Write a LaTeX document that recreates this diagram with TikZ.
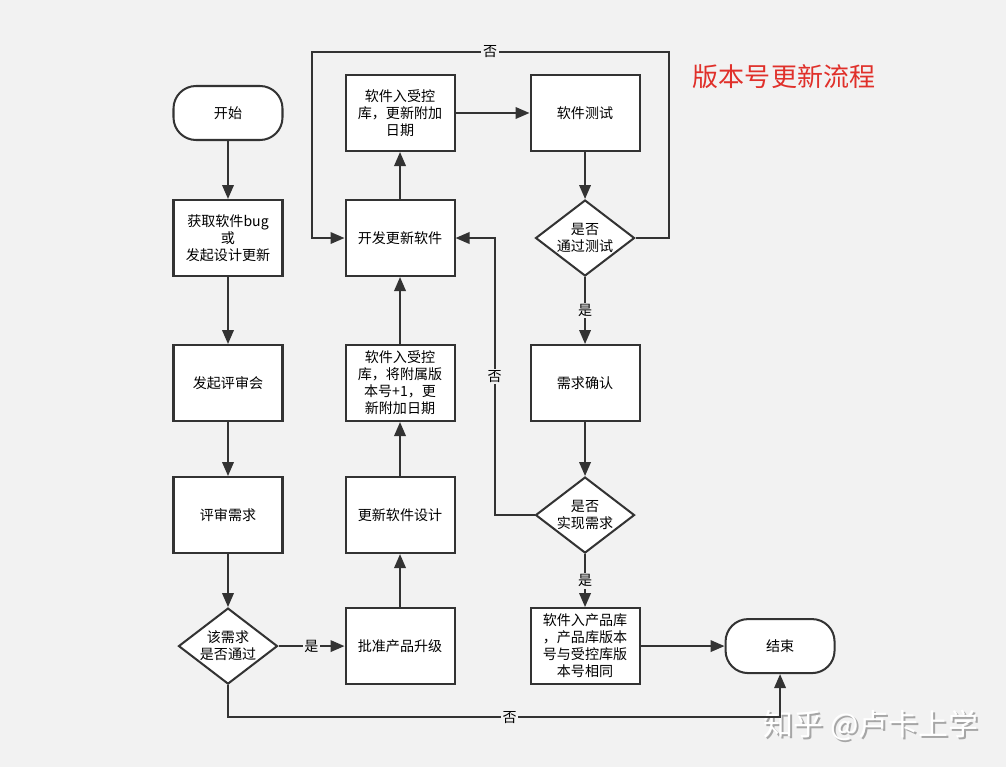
\documentclass[tikz,border=0pt]{standalone}
\usepackage{fontspec}
\setmainfont{Noto Sans CJK SC}
\usetikzlibrary{shapes.geometric, arrows.meta, positioning, calc}
\definecolor{pagebg}{HTML}{F2F2F2}
\definecolor{linegray}{HTML}{333333}
\definecolor{titlered}{HTML}{E0302A}
\tikzset{
  base/.style = {
    draw=linegray, line width=1.15pt, fill=white, minimum width=2.18cm,
    font=\fontsize{8}{9.7}\selectfont, text centered, align=center, inner sep=1pt
  },
  startstop/.style = {
    base, minimum height=1.08cm, rounded corners=0.45cm
  },
  process/.style = {
    base, minimum height=1.52cm
  },
  decision/.style = {
    base, diamond, aspect=1.3, minimum width=1.98cm, minimum height=1.52cm, inner sep=0pt
  },
  arrow/.style = {
    line width=1.15pt, draw=linegray, -{Triangle[length=2.8mm, width=2.3mm]}
  },
  branch/.style = {
    fill=pagebg, font=\fontsize{8}{9.7}\selectfont, inner sep=1pt
  }
}

\begin{document}
\begin{tikzpicture}[
  node distance = 1.08cm and 1.22cm
  ]
  \useasboundingbox[fill=pagebg] (0,0) rectangle (20.12,-15.34);

  % Left column (top to bottom)
  \node[startstop] (start) at (4.56,-2.26) {开始};
  \node[process, below=1.16cm of start] (getbug) {获取软件bug\\或\\发起设计更新};
  \node[process, below=1.34cm of getbug] (review) {发起评审会};
  \node[process, below=of review] (reqreview) {评审需求};
  \node[decision, below=1.06cm of reqreview] (reqpass) {该需求\\是否通过};

  % Middle column (bottom to top)
  \node[process, right=of reqreview] (updesign) {更新软件设计};
  \node[process, below=1.06cm of updesign] (approve) {批准产品升级};
  \node[process, right=of review] (ctrlplus) {软件入受控\\库，将附属版\\本号+1，更\\新附加日期};
  \node[process, right=of getbug] (develop) {开发更新软件};
  \node[process, above=0.94cm of develop] (ctrlbase) {软件入受控\\库，更新附加\\日期};

  % Right column (top to bottom)
  \node[process, right=1.48cm of ctrlbase] (swtest) {软件测试};
  \node[decision, below=0.94cm of swtest] (testpass) {是否\\通过测试};
  \node[process, right=1.48cm of ctrlplus] (reqconfirm) {需求确认};
  \node[decision, below=of reqconfirm] (reqmet) {是否\\实现需求};
  \node[process, below=1.06cm of reqmet] (prodlib) {软件入产品库\\，产品库版本\\号与受控库版\\本号相同};
  \node[startstop, right=1.68cm of prodlib] (finish) {结束};

  % Title and mark
  \node[font=\fontsize{14.8}{16}\selectfont, text=titlered] (title) at (15.68,-1.54) {版本号更新流程};
  \node[font=\fontsize{17}{18}\selectfont, text=black!35] (markshade) at (17.46,-14.54) {知乎 @卢卡上学};
  \node[font=\fontsize{17}{18}\selectfont, text=white] (mark) at (17.42,-14.5) {知乎 @卢卡上学};

  % Arrows (left column)
  \draw[arrow] (start) -- (getbug);
  \draw[arrow] (getbug) -- (review);
  \draw[arrow] (review) -- (reqreview);
  \draw[arrow] (reqreview) -- (reqpass);
  \draw[arrow] (reqpass) -- node[branch]{是} (approve);
  \coordinate (nobottom) at ($(reqpass.south)+(0,-0.64)$);
  \draw[arrow] (reqpass.south) -- (nobottom) -| node[branch, pos=0.255]{否} (finish.south);

  % Arrows (middle column upward, right column downward)
  \draw[arrow] (approve) -- (updesign);
  \draw[arrow] (updesign) -- (ctrlplus);
  \draw[arrow] (ctrlplus) -- (develop);
  \draw[arrow] (develop) -- (ctrlbase);
  \draw[arrow] (ctrlbase) -- (swtest);
  \draw[arrow] (swtest) -- (testpass);
  \draw[arrow] (testpass) -- node[branch]{是} (reqconfirm);
  \draw[arrow] (reqconfirm) -- (reqmet);
  \draw[arrow] (reqmet) -- node[branch]{是} (prodlib);
  \draw[arrow] (prodlib) -- (finish);

  % Loops back to development
  \coordinate (testR) at ($(testpass.east)+(0.66,0)$);
  \coordinate (testTop) at ($(ctrlbase.north)+(0,0.44)$);
  \coordinate (devL) at ($(develop.west)+(-0.66,0)$);
  \draw[arrow] (testpass.east) -- (testR) -- (testR |- testTop)
    -- node[branch]{否} (devL |- testTop) -- (devL) -- (develop.west);
  \coordinate (metL) at ($(develop.east)+(0.78,0)$);
  \draw[arrow] (reqmet.west) -| node[branch, pos=0.75]{否} (metL) -- (develop.east);

\end{tikzpicture}
\end{document}
